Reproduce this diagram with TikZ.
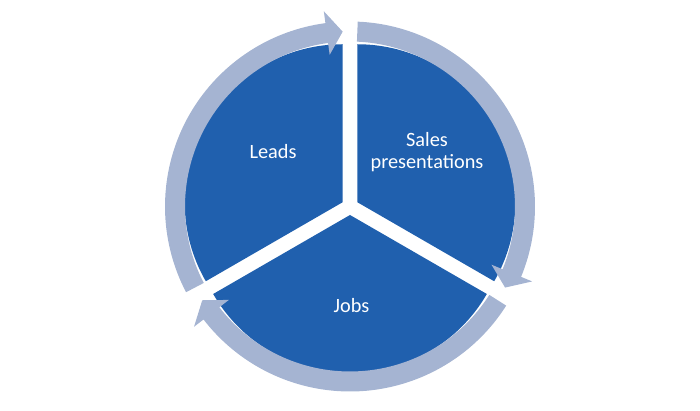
\documentclass[tikz,border=0pt]{standalone}
\usepackage{fontspec}
\setmainfont{Carlito}
\usetikzlibrary{calc}
\definecolor{secblue}{RGB}{32,96,174}
\definecolor{ringblue}{RGB}{165,180,210}
\tikzset{
  sector/.style={fill=secblue},
  ringseg/.style={fill=ringblue},
  lbl/.style={text=white, align=center, font=\fontsize{20.3}{22.6}\selectfont, inner sep=0pt}
}
\begin{document}
\begin{tikzpicture}[x=1pt,y=1pt]
\useasboundingbox (0,0) rectangle (700,411);
\coordinate (C) at (350,204.5);
% sectors
\fill[sector] ($(C)+(150:8.5)$) -- ++(90:158) arc[start angle=90, end angle=210, radius=158] -- cycle;
\fill[sector] ($(C)+(30:8.5)$) -- ++(-30:158) arc[start angle=-30, end angle=90, radius=158] -- cycle;
\fill[sector] ($(C)+(270:8.5)$) -- ++(210:158) arc[start angle=210, end angle=330, radius=158] -- cycle;
% ring arrows
\begin{scope}[shift={(C)}]
\foreach \a/\b in {207.6/92.4, 87.6/-27.6, 327.6/212.4}{
  \pgfmathsetmacro{\bb}{\b+5.24}
  \fill[ringseg] (\a:185) arc[start angle=\a, end angle=\bb, radius=185]
     -- (\bb:197) -- (\b:175) -- (\bb:153) -- (\bb:165)
     arc[start angle=\bb, end angle=\a, radius=165] -- cycle;
}
\end{scope}
% labels
\node[lbl] (leads) at (273,259) {Leads};
\node[lbl] (sales) at (427,259) {Sales\\presentations};
\node[lbl] (jobs) at (351.5,105) {Jobs};
\end{tikzpicture}
\end{document}
